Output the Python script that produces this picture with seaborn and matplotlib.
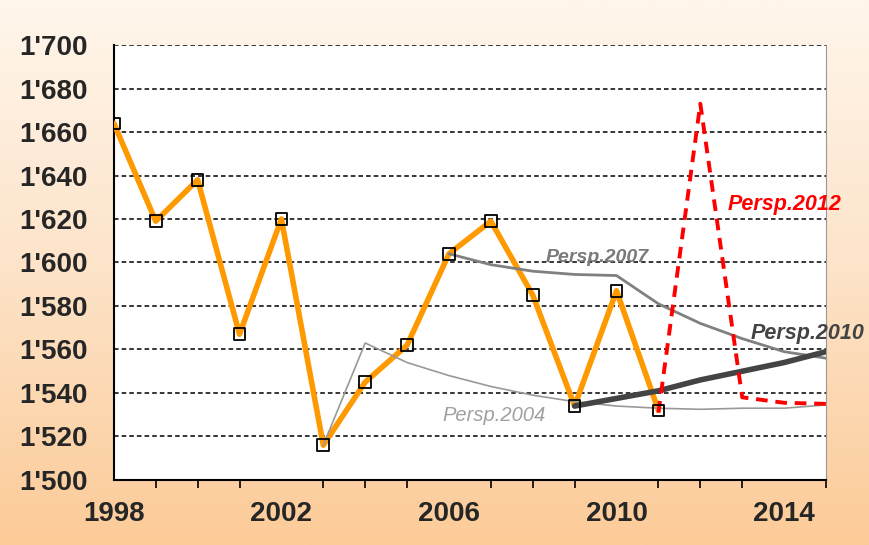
import numpy as np
import pandas as pd
import matplotlib
matplotlib.use("Agg")
import matplotlib.pyplot as plt
import seaborn as sns
from matplotlib.ticker import FuncFormatter, MultipleLocator, FixedLocator
from matplotlib.colors import LinearSegmentedColormap

# --- data ---
years = [1998, 1999, 2000, 2001, 2002, 2003, 2004, 2005, 2006, 2007, 2008, 2009, 2010, 2011]
values = [1664, 1619, 1638, 1567, 1620, 1516, 1545, 1562, 1604, 1619, 1585, 1534, 1587, 1532]

p2004_years = [2003, 2004, 2005, 2006, 2007, 2008, 2009, 2010, 2011, 2012, 2013, 2014, 2015]
p2004_values = [1516, 1563, 1554, 1548, 1543, 1539, 1536, 1534, 1533, 1532.5, 1533, 1533, 1534.5]

p2007_years = [2006, 2007, 2008, 2009, 2010, 2011, 2012, 2013, 2014, 2015]
p2007_values = [1604, 1599, 1596, 1594.5, 1594, 1581, 1572, 1565, 1559, 1556]

p2010_years = [2009, 2010, 2011, 2012, 2013, 2014, 2015]
p2010_values = [1534, 1537.5, 1541, 1546, 1550, 1554, 1559]

p2012_years = [2011, 2012, 2013, 2014, 2015]
p2012_values = [1531, 1673, 1538, 1535.5, 1535]

xtick_years = [1998, 2002, 2006, 2010, 2014]

sns.set_style("white")
plt.rcParams['font.family'] = ['Liberation Sans', 'DejaVu Sans']

fig = plt.figure(figsize=(8.69, 5.45), dpi=100)

# peach gradient background
bg = fig.add_axes([0, 0, 1, 1], zorder=-10)
cmap = LinearSegmentedColormap.from_list("peach", ["#fff6ec", "#fde3c8", "#fccb98"])
bg.imshow(np.linspace(0, 1, 256).reshape(-1, 1), aspect="auto", cmap=cmap, extent=[0, 1, 0, 1])
bg.axis("off")

ax = fig.add_axes([0.131, 0.1193, 0.8195, 0.7981])
ax.set_facecolor("white")

df = pd.DataFrame({"year": years, "value": values})
d04 = pd.DataFrame({"year": p2004_years, "value": p2004_values})
d07 = pd.DataFrame({"year": p2007_years, "value": p2007_values})
d10 = pd.DataFrame({"year": p2010_years, "value": p2010_values})
d12 = pd.DataFrame({"year": p2012_years, "value": p2012_values})

sns.lineplot(data=df, x="year", y="value", ax=ax, color="#ff9900", lw=4, zorder=3)
sns.lineplot(data=d04, x="year", y="value", ax=ax, color="#999999", lw=1.2, zorder=4)
sns.lineplot(data=d07, x="year", y="value", ax=ax, color="#808080", lw=2, zorder=4)
sns.lineplot(data=d10, x="year", y="value", ax=ax, color="#444444", lw=4, zorder=4)
sns.lineplot(data=d12, x="year", y="value", ax=ax, color="#ff0000", lw=2.8,
             linestyle=(0, (3, 2)), zorder=5)
sns.scatterplot(data=df, x="year", y="value", ax=ax, marker="s", s=70,
                facecolor="none", edgecolor="black", linewidth=1.3, zorder=6)

ax.set_xlim(1998, 2015)
ax.set_ylim(1500, 1700)
ax.xaxis.set_major_locator(FixedLocator(xtick_years))
ax.xaxis.set_minor_locator(MultipleLocator(1))
ax.yaxis.set_major_locator(MultipleLocator(20))
ax.yaxis.set_major_formatter(FuncFormatter(lambda v, p: f"{int(v) // 1000}'{int(v) % 1000:03d}"))
ax.tick_params(axis="both", which="major", labelsize=20, direction="out", length=7,
               width=1.2, color="black")
ax.tick_params(axis="x", which="minor", direction="out", length=6, width=1.2,
               color="black", bottom=True)
ax.tick_params(axis="x", which="major", pad=8)
ax.tick_params(axis="y", which="major", pad=12)
for lab in ax.get_xticklabels() + ax.get_yticklabels():
    lab.set_fontweight("bold")

ax.grid(axis="y", color="black", linestyle=(0, (3, 2)), lw=1.1)
ax.set_axisbelow(True)
ax.spines["top"].set_visible(False)
ax.spines["right"].set_color("#999999")
ax.spines["left"].set_color("black")
ax.spines["bottom"].set_color("black")
ax.spines["left"].set_linewidth(1.5)
ax.spines["bottom"].set_linewidth(1.5)
ax.set_xlabel("")
ax.set_ylabel("")

ax.text(2005.85, 1527, "Persp.2004", color="#a0a0a0", style="italic", fontsize=14.5)
ax.text(2008.3, 1600, "Persp.2007", color="#7a7a7a", style="italic", weight="bold", fontsize=14)
ax.text(2013.2, 1565, "Persp.2010", color="#444444", style="italic", weight="bold",
        fontsize=15.5, clip_on=False)
ax.text(2012.65, 1624, "Persp.2012", color="#ff0000", style="italic", weight="bold", fontsize=15.5)

fig.savefig("out.png", dpi=100)
